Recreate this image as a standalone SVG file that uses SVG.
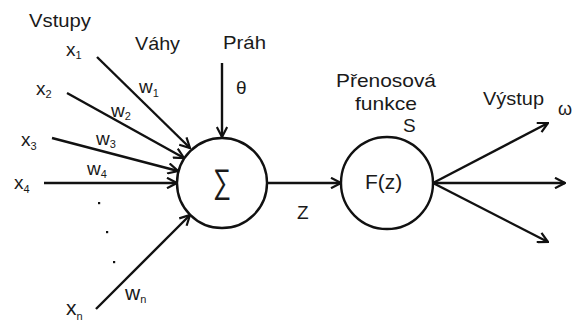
<svg xmlns="http://www.w3.org/2000/svg" width="574" height="322" viewBox="0 0 574 322">
  <style>
    text { font-family: "Liberation Sans", Arial, sans-serif; fill: #1a1a1a; }
    .lbl { font-size: 19px; }
    .var { font-size: 19px; }
    .big { font-size: 21px; }
    .sub { font-size: 11px; }
    .edge { stroke: #111; stroke-width: 2.4; fill: none; marker-end: url(#arrow); }
    .node { stroke: #111; stroke-width: 2.4; fill: #fff; }
  </style>
  <defs>
    <marker id="arrow" viewBox="0 0 12 12" refX="11" refY="6" markerWidth="12" markerHeight="12" markerUnits="userSpaceOnUse" orient="auto">
      <path d="M1,0.8 L11,6 L1,11.2" fill="none" stroke="#111" stroke-width="2.2"/>
    </marker>
  </defs>

  <!-- connectors -->
  <g id="connectors">
    <line class="edge" x1="97" y1="57" x2="190" y2="148"/>
    <line class="edge" x1="67" y1="93" x2="184" y2="158"/>
    <line class="edge" x1="52" y1="138" x2="178" y2="171"/>
    <line class="edge" x1="44" y1="183" x2="177" y2="183"/>
    <line class="edge" x1="96" y1="309" x2="190" y2="215"/>
    <line class="edge" x1="222" y1="63" x2="222" y2="137"/>
    <line class="edge" x1="267" y1="183" x2="341" y2="183"/>
    <line class="edge" x1="433" y1="183" x2="548" y2="123"/>
    <line class="edge" x1="433" y1="183" x2="565" y2="183"/>
    <line class="edge" x1="433" y1="183" x2="548" y2="242"/>
  </g>

  <!-- summation node -->
  <g id="sum">
    <circle class="node" cx="222" cy="183" r="45"/>
    <text x="213" y="193" font-size="34" textLength="18" lengthAdjust="spacingAndGlyphs">∑</text>
  </g>

  <!-- transfer function node -->
  <g id="transfer">
    <circle class="node" cx="387" cy="183" r="46"/>
    <text class="big" x="365" y="189">F(z)</text>
  </g>

  <!-- inputs -->
  <g id="inputs">
    <text class="lbl" x="29" y="27" textLength="62" lengthAdjust="spacingAndGlyphs">Vstupy</text>
    <text class="var" x="66" y="56">x<tspan class="sub" dy="3">1</tspan></text>
    <text class="var" x="36" y="95">x<tspan class="sub" dy="3">2</tspan></text>
    <text class="var" x="21" y="146">x<tspan class="sub" dy="4">3</tspan></text>
    <text class="var" x="14" y="189">x<tspan class="sub" dy="4">4</tspan></text>
    <text class="big" x="66" y="315">x<tspan class="sub" dy="5">n</tspan></text>
    <rect x="98" y="202" width="2.2" height="2.2" fill="#111"/>
    <rect x="106" y="231" width="2.2" height="2.2" fill="#111"/>
    <rect x="113" y="261" width="2.2" height="2.2" fill="#111"/>
  </g>

  <!-- weights -->
  <g id="weights">
    <text class="lbl" x="135" y="50" textLength="45" lengthAdjust="spacingAndGlyphs">Váhy</text>
    <text class="var" x="139" y="93">w<tspan class="sub" dy="4">1</tspan></text>
    <text class="var" x="111" y="117">w<tspan class="sub" dy="3">2</tspan></text>
    <text class="var" x="96" y="145">w<tspan class="sub" dy="3">3</tspan></text>
    <text class="var" x="87" y="175">w<tspan class="sub" dy="3">4</tspan></text>
    <text class="big" x="125" y="300">w<tspan class="sub" dy="3">n</tspan></text>
  </g>

  <!-- threshold -->
  <g id="threshold">
    <text class="lbl" x="223" y="49" textLength="43" lengthAdjust="spacingAndGlyphs">Práh</text>
    <text class="lbl" x="236" y="94">θ</text>
  </g>

  <!-- net input -->
  <g id="net">
    <text class="lbl" x="297" y="219">Z</text>
  </g>

  <!-- transfer label -->
  <g id="transfer-label">
    <text class="lbl" x="336" y="87" textLength="100" lengthAdjust="spacingAndGlyphs">Přenosová</text>
    <text class="lbl" x="355" y="110" textLength="62" lengthAdjust="spacingAndGlyphs">funkce</text>
    <text class="lbl" x="403" y="132">S</text>
  </g>

  <!-- output -->
  <g id="output">
    <text class="lbl" x="483" y="105" textLength="61" lengthAdjust="spacingAndGlyphs">Výstup</text>
    <text x="558" y="115" font-size="18" font-family="'DejaVu Sans', sans-serif" font-weight="200" fill="#333">ω</text>
  </g>
</svg>
